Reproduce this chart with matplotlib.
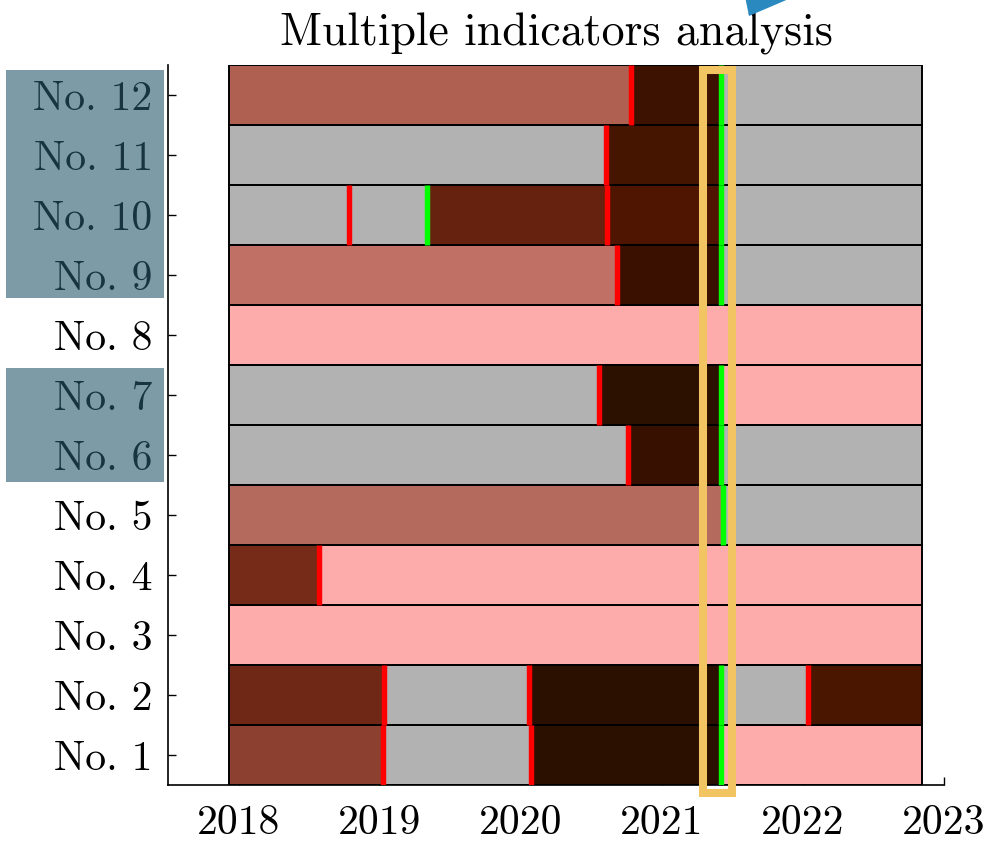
import matplotlib
matplotlib.use("Agg")
import matplotlib.pyplot as plt
from matplotlib.patches import Rectangle, Polygon

plt.rcParams['font.family'] = ['cmr10', 'DejaVu Serif']
plt.rcParams['axes.formatter.use_mathtext'] = True

# ---- data ----
labels = ['No. 1', 'No. 2', 'No. 3', 'No. 4', 'No. 5', 'No. 6',
          'No. 7', 'No. 8', 'No. 9', 'No. 10', 'No. 11', 'No. 12']
t_start = 2017.93
t_end = 2022.845

# change points per row (year, kind): 'r' = red marker, 'g' = green marker
row1_breaks = [(2019.018, 'r'), (2020.07, 'r'), (2021.415, 'g')]
row2_breaks = [(2019.025, 'r'), (2020.06, 'r'), (2021.415, 'g'), (2022.035, 'r')]
row3_breaks = []
row4_breaks = [(2018.567, 'r')]
row5_breaks = [(2021.43, 'g')]
row6_breaks = [(2020.76, 'r'), (2021.415, 'g')]
row7_breaks = [(2020.55, 'r'), (2021.415, 'g')]
row8_breaks = []
row9_breaks = [(2020.68, 'r'), (2021.415, 'g')]
row10_breaks = [(2018.78, 'r'), (2019.33, 'g'), (2020.61, 'r'), (2021.415, 'g')]
row11_breaks = [(2020.603, 'r'), (2021.415, 'g')]
row12_breaks = [(2020.78, 'r'), (2021.415, 'g')]

G = '#b2b2b2'
P = '#fdabab'
row1_colors = ['#8b4030', G, '#2b1000', P]
row2_colors = ['#6f2815', G, '#2b1000', G, '#4a1600']
row3_colors = [P]
row4_colors = ['#752b18', P]
row5_colors = ['#b56a5e', G]
row6_colors = [G, '#371000', G]
row7_colors = [G, '#2c1000', P]
row8_colors = [P]
row9_colors = ['#c07064', '#3a1000', G]
row10_colors = [G, G, '#66210f', '#4f1500', G]
row11_colors = [G, '#461500', G]
row12_colors = ['#b06050', '#3d1200', G]

breaks = [row1_breaks, row2_breaks, row3_breaks, row4_breaks, row5_breaks, row6_breaks,
          row7_breaks, row8_breaks, row9_breaks, row10_breaks, row11_breaks, row12_breaks]
colors = [row1_colors, row2_colors, row3_colors, row4_colors, row5_colors, row6_colors,
          row7_colors, row8_colors, row9_colors, row10_colors, row11_colors, row12_colors]

highlight_x = (2021.29, 2021.50)
xticks = [2018, 2019, 2020, 2021, 2022, 2023]

# ---- figure ----
W, H = 996, 842
fig = plt.figure(figsize=(W / 100, H / 100), dpi=100)
ax = fig.add_axes([168 / W, 1 - 785 / H, (944 - 168) / W, (785 - 65) / H])

for i, (brk, cols) in enumerate(zip(breaks, colors)):
    y = i + 1
    edges = [t_start] + [b for b, _ in brk] + [t_end]
    for k, c in enumerate(cols):
        ax.barh(y, edges[k + 1] - edges[k], left=edges[k], height=1.0,
                color=c, edgecolor='none', zorder=1)
    ax.barh(y, t_end - t_start, left=t_start, height=1.0,
            facecolor='none', edgecolor='black', linewidth=1.4, zorder=2)
    for b, kind in brk:
        ax.plot([b, b], [y - 0.5, y + 0.5], color='#ff0000' if kind == 'r' else '#00ff00',
                linewidth=3.9, solid_capstyle='butt', zorder=3)

ax.add_patch(Rectangle((highlight_x[0], 0.367), highlight_x[1] - highlight_x[0], 12.417 - 0.367,
                       facecolor='none', edgecolor='#f2c462', linewidth=5.8,
                       clip_on=False, zorder=5))

ax.set_xlim(2017.4965, 2023.0)
ax.set_ylim(0.5, 12.5)
ax.set_yticks(range(1, 13))
ax.set_yticklabels(labels)
ax.set_xticks(xticks)
ax.set_xticklabels([str(t) for t in xticks])
ax.set_axisbelow(True)
ax.tick_params(axis='both', direction='in', length=6, width=1.0, labelsize=30)
ax.tick_params(axis='y', pad=11)
ax.tick_params(axis='x', pad=14)
for s in ['top', 'right']:
    ax.spines[s].set_visible(False)
for s in ['left', 'bottom']:
    ax.spines[s].set_linewidth(1.2)
ax.set_title('Multiple indicators analysis', fontsize=33, pad=14)

# highlight boxes behind labels (semi-transparent overlay)
for (x0, y0, x1, y1) in [(6, 70, 164, 298), (6, 368, 164, 482)]:
    fig.patches.append(Rectangle((x0 / W, 1 - y1 / H), (x1 - x0) / W, (y1 - y0) / H,
                                 transform=fig.transFigure, facecolor='#27586b',
                                 alpha=0.6, edgecolor='none', zorder=10))

# blue arrow fragment at top
fig.patches.append(Polygon([(744 / W, 1.01), (749 / W, 1 - 16 / H), (806 / W, 1.01)],
                           closed=True, transform=fig.transFigure,
                           facecolor='#2a8ac0', edgecolor='none', zorder=10))

fig.savefig('out.png', dpi=100)
